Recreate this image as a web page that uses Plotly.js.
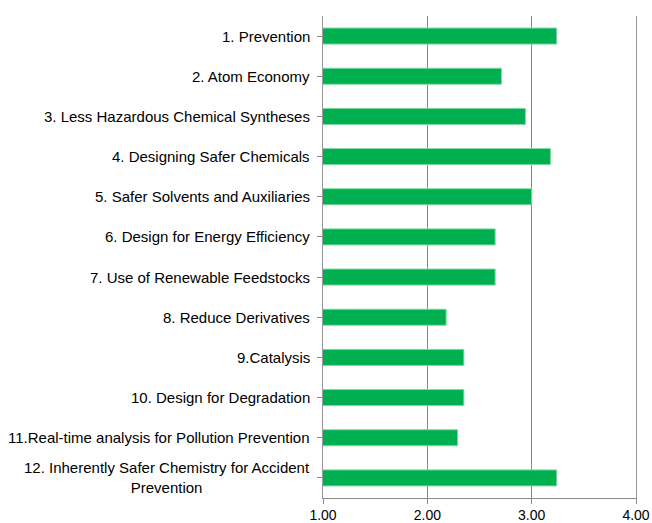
<!DOCTYPE html>
<html>
<head>
<meta charset="utf-8">
<script src="https://cdn.plot.ly/plotly-3.0.1.min.js"></script>
<style>html,body{margin:0;padding:0;background:#fff;}#chart{width:652px;height:523px;}</style>
</head>
<body>
<div id="chart"></div>
<script>
var categories = [
  "1. Prevention",
  "2. Atom Economy",
  "3. Less Hazardous Chemical Syntheses",
  "4. Designing Safer Chemicals",
  "5. Safer Solvents and Auxiliaries",
  "6. Design for Energy Efficiency",
  "7. Use of Renewable Feedstocks",
  "8. Reduce Derivatives",
  "9.Catalysis",
  "10. Design for Degradation",
  "11.Real-time analysis for Pollution Prevention",
  "12. Inherently Safer Chemistry for Accident<br>Prevention"
];
var values = [3.24, 2.71, 2.94, 3.18, 3.00, 2.65, 2.65, 2.18, 2.35, 2.35, 2.29, 3.24];
var xTickVals = [1, 2, 3, 4];
var xTickText = ["1.00", "2.00", "3.00", "4.00"];

var font = "Liberation Sans, Arial, sans-serif";
var ids = categories.map(function(c, i){ return i; });

var annotations = categories.map(function(c, i){
  return {
    text: c, xref: "paper", x: 0, yref: "y", y: i,
    xanchor: "right", yanchor: "middle", xshift: -11, align: "center",
    showarrow: false, font: {family: font, size: 15, color: "#000"}
  };
});

Plotly.newPlot("chart", [{
  type: "bar", orientation: "h",
  x: values, y: ids, base: 0,
  marker: {color: "#00B050", line: {color: "#7fd8a3", width: 1}},
  hoverinfo: "x"
}], {
  width: 652, height: 523,
  margin: {l: 323, r: 16, t: 16, b: 25},
  paper_bgcolor: "#fff", plot_bgcolor: "#fff",
  bargap: 0.6,
  showlegend: false,
  xaxis: {
    range: [1, 4], tickvals: xTickVals, ticktext: xTickText,
    showgrid: true, gridcolor: "#8a8a8a", gridwidth: 1,
    showline: true, linecolor: "#8a8a8a", linewidth: 1,
    ticks: "outside", ticklen: 5, tickcolor: "#8a8a8a",
    ticklabelstandoff: -1,
    zeroline: false, tickfont: {family: font, size: 14, color: "#000"}
  },
  yaxis: {
    range: [11.5, -0.5], tickvals: ids, showticklabels: false,
    tickson: "boundaries", ticks: "outside", ticklen: 5, tickcolor: "#8a8a8a",
    showline: true, mirror: true, linecolor: "#9a9a9a", linewidth: 1,
    showgrid: false, zeroline: false
  },
  annotations: annotations
}, {displayModeBar: false, staticPlot: true});
</script>
</body>
</html>
